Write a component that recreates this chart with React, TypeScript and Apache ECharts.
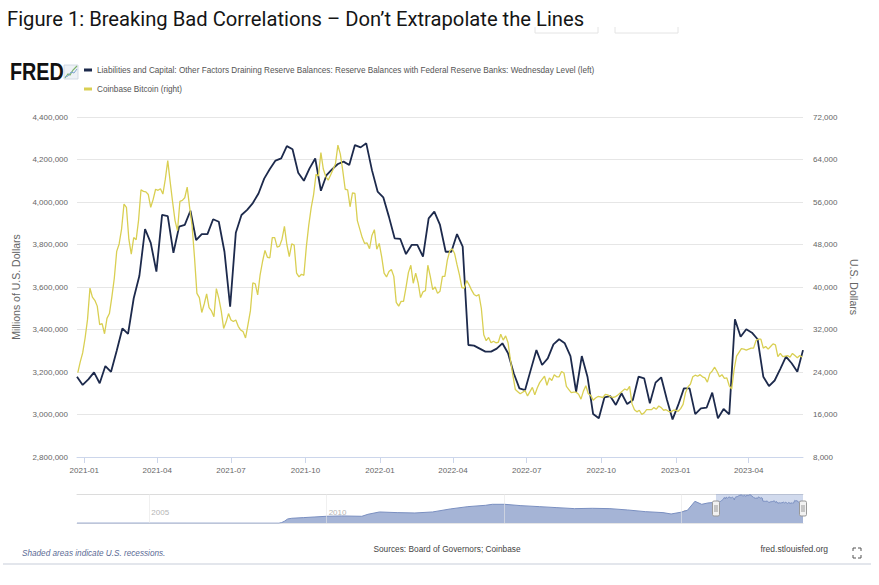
import React, { useEffect, useRef } from "react";
import * as echarts from "echarts";

// ---------- data ----------
const titleText = "Figure 1: Breaking Bad Correlations \u2013 Don\u2019t Extrapolate the Lines";
const reserveName =
  "Liabilities and Capital: Other Factors Draining Reserve Balances: Reserve Balances with Federal Reserve Banks: Wednesday Level (left)";
const btcName = "Coinbase Bitcoin (right)";

// weekly (Wednesday) values, millions of U.S. dollars, first week 2020-12-23
const reserveStart = [2020, 12, 23];
const reserveValues = [
  3178000, 3139000, 3165000, 3198000, 3147000, 3228000, 3201000, 3300000, 3405000, 3379000,
  3547000, 3653000, 3873000, 3808000, 3672000, 3939000, 3934000, 3761000, 3884000, 3892000,
  3959000, 3821000, 3849000, 3849000, 3919000, 3907000, 3766000, 3507000, 3855000, 3939000,
  3963000, 3995000, 4040000, 4110000, 4155000, 4195000, 4205000, 4263000, 4248000, 4138000,
  4100000, 4158000, 4205000, 4053000, 4127000, 4155000, 4179000, 4190000, 4174000, 4268000,
  4257000, 4276000, 4150000, 4049000, 4022000, 3930000, 3829000, 3826000, 3755000, 3798000,
  3798000, 3743000, 3923000, 3955000, 3892000, 3766000, 3766000, 3849000, 3790000, 3327000,
  3324000, 3310000, 3296000, 3296000, 3310000, 3335000, 3288000, 3194000, 3123000, 3115000,
  3210000, 3303000, 3233000, 3264000, 3330000, 3354000, 3335000, 3275000, 3107000, 3275000,
  3178000, 3002000, 2982000, 3081000, 3087000, 3045000, 3100000, 3049000, 3068000, 3178000,
  3170000, 3053000, 3150000, 3175000, 3071000, 2977000, 3045000, 3123000, 3123000, 3002000,
  3029000, 3032000, 3103000, 2982000, 3026000, 3001000, 3448000, 3366000, 3401000, 3385000,
  3354000, 3178000, 3134000, 3160000, 3215000, 3272000, 3241000, 3201000, 3303000,
];

// Coinbase Bitcoin, U.S. dollars, one value every 3 days from 2020-12-24
const btcStart = [2020, 12, 24];
const btcStepDays = 3;
const btcValues = [
  23900, 25900, 27600, 30400, 33900, 39800, 38100, 37500, 36400, 32900,
  33100, 31200, 34100, 35000, 38100, 41600, 46700, 48100, 50900, 55600,
  55000, 49000, 46200, 49300, 48900, 52600, 58300, 58000, 57900, 57400,
  55000, 56500, 58400, 58200, 58500, 57500, 60300, 63800, 59800, 56000,
  52500, 50600, 56100, 56300, 56800, 58800, 55000, 51600, 45600, 38800,
  38000, 35200, 36800, 38700, 36100, 35500, 34400, 39700, 37900, 35500,
  32200, 33400, 35000, 33800, 33500, 33800, 32600, 31900, 31600, 30400,
  32900, 35500, 40800, 40600, 38500, 42300, 44800, 46900, 45600, 45500,
  49300, 49300, 47500, 47700, 49000, 51400, 48000, 45700, 48100, 47900,
  42600, 41900, 42400, 42200, 47500, 51600, 54900, 57400, 61200, 60900,
  65300, 62200, 60800, 60100, 61100, 62100, 63200, 66700, 65000, 61900,
  58400, 58300, 55100, 57700, 57600, 52500, 50900, 49300, 48200, 48300,
  47200, 49700, 50800, 47100, 48200, 45700, 42600, 41900, 42900, 43300,
  42000, 37100, 36400, 37300, 37300, 39900, 42700, 44100, 40700, 42600,
  40800, 38000, 39100, 39300, 44100, 42000, 39500, 40000, 38800, 39200,
  42000, 42000, 45000, 46800, 47200, 46300, 44200, 42300, 39900, 39800,
  41200, 40400, 39400, 38600, 38300, 38600, 36000, 31000, 29900, 30500,
  29500, 29800, 29500, 29600, 31100, 30000, 30800, 29500, 26200, 23300,
  20700, 20300, 19900, 20200, 20500, 19500, 20300, 21100, 19700, 21000,
  22000, 22600, 23200, 21500, 22900, 22400, 23500, 23100, 23100, 24100,
  23800, 21300, 20700, 20100, 20200, 20200, 19800, 18900, 20400, 21400,
  19900, 19600, 18700, 19100, 19400, 19300, 19200, 19800, 19700, 19400,
  19200, 19300, 19600, 20000, 20400, 20800, 20600, 21300, 18000, 16900,
  16500, 16800, 16000, 16300, 16900, 16900, 16900, 17300, 17000, 17600,
  17300, 16800, 16900, 16600, 16500, 16800, 16800, 16600, 17100, 17900,
  20100, 21200, 21700, 23100, 23400, 23200, 23500, 23100, 22900, 22100,
  23700, 24200, 24900, 24100, 23100, 23500, 22800, 22900, 21400, 20800,
  24500, 27000, 27700, 28400, 28300, 28100, 28300, 28500, 28500, 29900,
  30200, 30200, 28500, 28800, 28300, 28800, 29300, 29100, 26900, 27500,
  26900, 27000, 27100, 26800, 27500, 27100, 26700, 27100, 26800,
];

// navigator history of the reserve balances (millions), before the weekly window
const navDates = [
  "2002-12-18", "2005-01-05", "2008-08-27", "2008-09-24", "2008-10-22", "2008-11-26",
  "2009-01-07", "2009-05-06", "2009-09-02", "2009-12-30", "2010-06-02", "2010-12-29",
  "2011-03-02", "2011-06-29", "2011-12-28", "2012-06-27", "2012-12-26", "2013-06-26",
  "2013-12-25", "2014-06-25", "2014-09-03", "2015-01-07", "2015-06-24", "2015-12-30",
  "2016-06-29", "2016-12-28", "2017-06-28", "2017-12-27", "2018-06-27", "2018-12-26",
  "2019-06-26", "2019-09-18", "2019-12-25", "2020-03-04", "2020-05-20", "2020-07-29",
  "2020-09-30", "2020-12-16",
];
const navValues = [
  15000, 17000, 10000, 100000, 300000, 650000,
  750000, 850000, 950000, 1050000, 1100000, 1050000,
  1350000, 1700000, 1600000, 1550000, 1700000, 2150000,
  2500000, 2700000, 2850000, 2850000, 2650000, 2500000,
  2350000, 2200000, 2250000, 2200000, 2000000, 1750000,
  1600000, 1400000, 1650000, 1950000, 3300000, 2850000,
  3050000, 3150000,
];

const xTickLabels = ["2021-01", "2021-04", "2021-07", "2021-10", "2022-01", "2022-04", "2022-07", "2022-10", "2023-01", "2023-04"];
const navYearLabels = [2005, 2010, 2015, 2020];
const axisRange = { from: "2020-12-23", to: "2023-06-07" };
const navRange = { from: "2002-12-18", to: "2023-06-07" };

// ---------- helpers ----------
const ts = (s: string) => {
  const [y, m, d] = s.split("-").map(Number);
  return new Date(y, m - 1, d || 1).getTime();
};
const dayTs = (start: number[], offset: number) => new Date(start[0], start[1] - 1, start[2] + offset).getTime();
const fmtYM = (v: number) => {
  const d = new Date(v);
  return `${d.getFullYear()}-${String(d.getMonth() + 1).padStart(2, "0")}`;
};

const SMALL = '"Liberation Sans", Arial, sans-serif';
const SANS = '"Liberation Sans", Arial, sans-serif';

export default function App() {
  const ref = useRef<HTMLDivElement>(null);

  useEffect(() => {
    if (!ref.current) return;
    const chart = echarts.init(ref.current, undefined, { renderer: "svg" });

    const reserveData = reserveValues.map((v, i) => [dayTs(reserveStart, 7 * i), v]);
    const btcData = btcValues.map((v, i) => [dayTs(btcStart, btcStepDays * i), v]);
    const navData = navDates.map((d, i) => [ts(d), navValues[i]]).concat(reserveData);

    const staticGraphics: any[] = [
      {
        type: "text", id: "title", x: 7, y: 9,
        style: { text: titleText, font: '20.2px Roboto, "Liberation Sans", sans-serif', fill: "#151515" },
      },
      { type: "polyline", id: "ghost1", shape: { points: [[535, 27], [535, 33], [598, 33], [598, 27]] }, style: { stroke: "#e4e4e4", fill: "none", lineWidth: 1 } },
      { type: "polyline", id: "ghost2", shape: { points: [[615, 27], [615, 33], [678, 33], [678, 27]] }, style: { stroke: "#e4e4e4", fill: "none", lineWidth: 1 } },
      {
        type: "text", id: "fred", x: 10, y: 61, scaleX: 0.86,
        style: { text: "FRED", font: 'bold 23px "Liberation Sans", Arial, sans-serif', fill: "#111" },
      },
      { type: "rect", id: "logoBox", shape: { x: 64, y: 65, width: 14, height: 14 }, style: { fill: "#eef2f6", stroke: "#c9d3df", lineWidth: 0.8 } },
      { type: "polyline", id: "logoLine1", shape: { points: [[65, 78], [68, 74], [70, 75], [73, 70], [77, 66]] }, style: { stroke: "#7cb26a", fill: "none", lineWidth: 1.2 } },
      { type: "polyline", id: "logoLine2", shape: { points: [[65, 77], [68, 76], [71, 72], [74, 73], [77, 69]] }, style: { stroke: "#7fa6d0", fill: "none", lineWidth: 1 } },
      {
        type: "text", id: "recess", x: 22, y: 553,
        style: { text: "Shaded areas indicate U.S. recessions.", font: `italic 8.2px ${SMALL}`, fill: "#5b6b95", verticalAlign: "middle" },
      },
      {
        type: "text", id: "sources", x: 447, y: 549,
        style: { text: "Sources: Board of Governors; Coinbase", font: `8.3px ${SMALL}`, fill: "#444", align: "center", verticalAlign: "middle" },
      },
      {
        type: "text", id: "fredurl", x: 828, y: 549,
        style: { text: "fred.stlouisfed.org", font: `8.5px ${SMALL}`, fill: "#444", align: "right", verticalAlign: "middle" },
      },
      { type: "line", id: "footLine", shape: { x1: 3, y1: 564, x2: 871, y2: 564 }, style: { stroke: "#e3e6ec", lineWidth: 2 } },
      { type: "polyline", id: "fs1", shape: { points: [[853, 551], [853, 548], [856, 548]] }, style: { stroke: "#555", fill: "none", lineWidth: 1 } },
      { type: "polyline", id: "fs2", shape: { points: [[858, 548], [861, 548], [861, 551]] }, style: { stroke: "#555", fill: "none", lineWidth: 1 } },
      { type: "polyline", id: "fs3", shape: { points: [[853, 555], [853, 558], [856, 558]] }, style: { stroke: "#555", fill: "none", lineWidth: 1 } },
      { type: "polyline", id: "fs4", shape: { points: [[858, 558], [861, 558], [861, 555]] }, style: { stroke: "#555", fill: "none", lineWidth: 1 } },
    ];

    const option: any = {
      animation: false,
      backgroundColor: "#ffffff",
      legend: {
        left: 84, top: 66, padding: 0, orient: "vertical", itemGap: 11, itemWidth: 8, itemHeight: 3,
        icon: "rect", selectedMode: false,
        textStyle: { fontSize: 8.2, color: "#555", fontFamily: SMALL },
        data: [reserveName, btcName],
      },
      grid: [
        { left: 77, right: 76, top: 117, height: 340, outerBoundsMode: "none" },
        { left: 77, right: 76, top: 494, height: 29, outerBoundsMode: "none" },
      ],
      xAxis: [
        {
          type: "value", gridIndex: 0, min: ts(axisRange.from), max: ts(axisRange.to),
          axisLine: { lineStyle: { color: "#ccd6eb", width: 1 } },
          axisTick: { show: true, length: 6, lineStyle: { color: "#ccd6eb" }, customValues: xTickLabels.map(ts) },
          axisLabel: {
            customValues: xTickLabels.map(ts), formatter: (v: number) => fmtYM(v),
            color: "#666", fontSize: 8, fontFamily: SMALL, margin: 9,
          },
          splitLine: { show: false },
        },
        {
          type: "value", gridIndex: 1, min: ts(navRange.from), max: ts(navRange.to),
          axisLine: { show: true, lineStyle: { color: "#e6e6e6" } },
          axisTick: { show: false },
          axisLabel: {
            inside: true, customValues: navYearLabels.map((y) => ts(`${y}-01-01`)),
            formatter: (v: number) => String(new Date(v).getFullYear()),
            color: "#b5b5b5", fontSize: 8, fontFamily: SMALL, align: "left", margin: 7, padding: [0, 0, 0, 2],
          },
          splitLine: { show: false },
        },
        {
          type: "value", gridIndex: 1, position: "top", min: ts(navRange.from), max: ts(navRange.to),
          axisLine: { show: true, lineStyle: { color: "#dcdcdc" } },
          axisTick: { show: false }, axisLabel: { show: false }, splitLine: { show: false },
        },
      ],
      yAxis: [
        {
          type: "value", gridIndex: 0, min: 2800000, max: 4400000, interval: 200000, position: "left",
          name: "Millions of U.S. Dollars", nameLocation: "middle", nameRotate: 90, nameGap: 52,
          nameTextStyle: { color: "#666", fontSize: 10.5, fontFamily: SANS },
          axisLine: { show: false }, axisTick: { show: false },
          axisLabel: {
            color: "#666", fontSize: 8, fontFamily: SMALL, margin: 9,
            formatter: (v: number) => v.toLocaleString("en-US"),
          },
          splitLine: { lineStyle: { color: "#e6e6e6", width: 1 } },
        },
        {
          type: "value", gridIndex: 0, min: 8000, max: 72000, interval: 8000, position: "right",
          name: "U.S. Dollars", nameLocation: "middle", nameRotate: -90, nameGap: 38,
          nameTextStyle: { color: "#666", fontSize: 10.5, fontFamily: SANS },
          axisLine: { show: false }, axisTick: { show: false },
          axisLabel: {
            color: "#666", fontSize: 8, fontFamily: SMALL, margin: 10,
            formatter: (v: number) => v.toLocaleString("en-US"),
          },
          splitLine: { show: false },
        },
        { type: "value", gridIndex: 1, min: 40000, max: 4400000, show: false, splitLine: { show: false } },
      ],
      series: [
        {
          name: reserveName, type: "line", xAxisIndex: 0, yAxisIndex: 0, data: reserveData,
          showSymbol: false, symbol: "none", color: "#1d2a4c",
          lineStyle: { color: "#1d2a4c", width: 1.8 },
        },
        {
          name: btcName, type: "line", xAxisIndex: 0, yAxisIndex: 1, data: btcData,
          showSymbol: false, symbol: "none", color: "#d9cf52",
          lineStyle: { color: "#d9cf52", width: 1.3 },
        },
        {
          name: "navigator", type: "line", xAxisIndex: 1, yAxisIndex: 2, data: navData,
          showSymbol: false, symbol: "none", silent: true, clip: true,
          lineStyle: { color: "#7a8fc0", width: 1 },
          areaStyle: { color: "#a5b4d6", opacity: 1 },
          markLine: {
            silent: true, symbol: "none", label: { show: false },
            lineStyle: { color: "#e6e6e6", width: 1, type: "solid", opacity: 0.6 },
            data: navYearLabels.map((y) => ({ xAxis: ts(`${y}-01-01`) })),
          },
          markArea: {
            silent: true,
            itemStyle: { color: "rgba(102,133,194,0.3)" },
            data: [[{ xAxis: ts(axisRange.from) }, { xAxis: ts(axisRange.to) }]],
          },
        },
      ],
      graphic: staticGraphics,
    };

    chart.setOption(option);

    // navigator handles, placed through the navigator axis
    const hx = [ts(axisRange.from), ts(axisRange.to)].map(
      (t) => chart.convertToPixel({ xAxisIndex: 1 }, t) as number
    );
    const handles: any[] = [];
    hx.forEach((x, k) => {
      handles.push({
        type: "rect", id: `h${k}`, shape: { x: x - 3.5, y: 501, width: 7, height: 15, r: 1.5 },
        style: { fill: "#f2f2f2", stroke: "#999", lineWidth: 1 }, z: 100,
      });
      handles.push({ type: "line", id: `h${k}a`, shape: { x1: x - 1, y1: 505, x2: x - 1, y2: 512 }, style: { stroke: "#999", lineWidth: 1 }, z: 101 });
      handles.push({ type: "line", id: `h${k}b`, shape: { x1: x + 1, y1: 505, x2: x + 1, y2: 512 }, style: { stroke: "#999", lineWidth: 1 }, z: 101 });
    });
    chart.setOption({ graphic: staticGraphics.concat(handles) });

    return () => chart.dispose();
  }, []);

  return (
    <div
      ref={ref}
      style={{ position: "fixed", left: 0, top: 0, width: 879, height: 585, background: "#fff" }}
    />
  );
}
